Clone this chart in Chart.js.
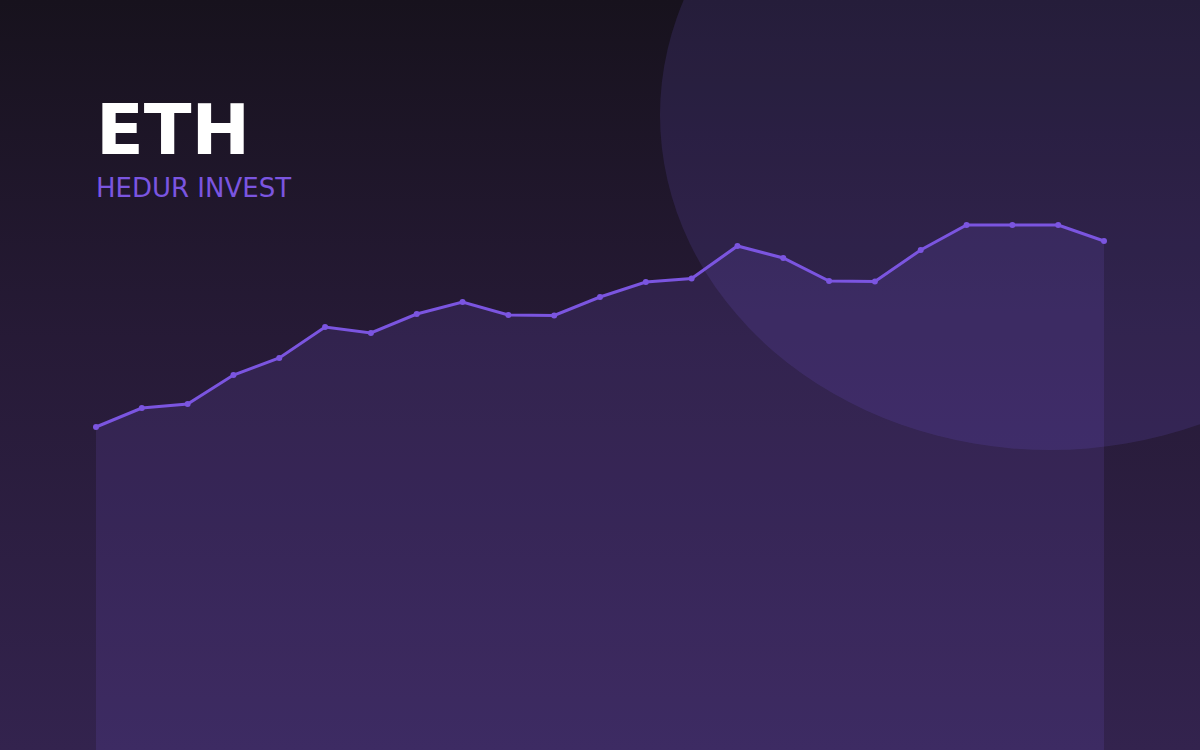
<!DOCTYPE html>
<html>
<head>
<meta charset="utf-8">
<script src="https://cdn.jsdelivr.net/npm/chart.js@4/dist/chart.umd.min.js"></script>
<style>
  html, body { margin: 0; padding: 0; }
  body {
    width: 1200px; height: 750px; overflow: hidden; position: relative;
    background: linear-gradient(to bottom, #17121d 0%, #261a36 45%, #33234e 100%);
    font-family: "DejaVu Sans", sans-serif;
  }
  .blob {
    position: absolute; left: 660px; top: -220px; width: 780px; height: 670px;
    border-radius: 50%; background: rgba(124, 92, 230, 0.15);
  }
  .title {
    position: absolute; left: 96px; top: 95px; line-height: 1;
    font-size: 70px; font-weight: bold; color: #ffffff;
  }
  .sub {
    position: absolute; left: 96px; top: 175px; line-height: 1;
    font-size: 26px; color: #7b55e0;
  }
  #wrap { position: absolute; left: 0; top: 0; width: 1200px; height: 750px; }
</style>
</head>
<body>
<div class="blob"></div>
<div class="title">ETH</div>
<div class="sub">HEDUR INVEST</div>
<div id="wrap"><canvas id="chart"></canvas></div>
<script>
// weekly ETH closes
const labels = ['W1','W2','W3','W4','W5','W6','W7','W8','W9','W10','W11','W12',
                'W13','W14','W15','W16','W17','W18','W19','W20','W21','W22','W23']
const prices = [1292, 1368, 1384, 1500, 1568, 1692, 1668, 1744, 1792, 1740, 1738, 1812,
                1872, 1886, 2016, 1968, 1876, 1874, 2000, 2100, 2100, 2100, 2036]

const LINE = '#7b55e0'

new Chart(document.getElementById('chart'), {
    type: 'line',
    data: {
        labels: labels,
        datasets: [{
            data: prices,
            borderColor: LINE,
            borderWidth: 3,
            backgroundColor: 'rgba(124, 92, 230, 0.14)',
            fill: 'start',
            tension: 0,
            pointRadius: 3,
            pointBackgroundColor: LINE,
            pointBorderWidth: 0
        }]
    },
    options: {
        responsive: true,
        maintainAspectRatio: false,
        animation: false,
        layout: { autoPadding: false, padding: { left: 96, right: 96, top: 0, bottom: 0 } },
        scales: {
            x: { display: false, offset: false },
            y: { display: false, min: 0, max: 3000 }
        },
        plugins: {
            legend: { display: false },
            tooltip: { enabled: false }
        }
    }
});
</script>
</body>
</html>
